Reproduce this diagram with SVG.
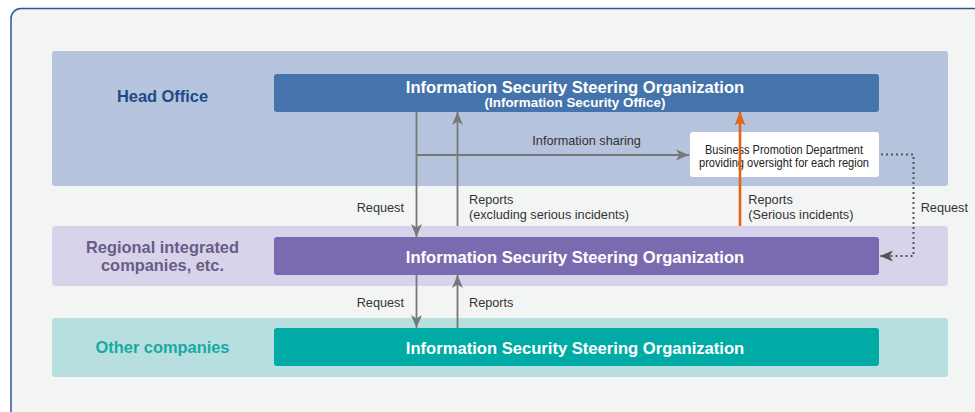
<svg xmlns="http://www.w3.org/2000/svg" width="975" height="412" viewBox="0 0 975 412">
<style>
.band{stroke:none}
.box-t{font-family:"Liberation Sans",Arial,sans-serif;font-weight:bold;fill:#ffffff;text-anchor:middle}
.lbl{font-family:"Liberation Sans",Arial,sans-serif;font-weight:bold;text-anchor:middle;font-size:16.4px}
.sm{font-family:"Liberation Sans",Arial,sans-serif;font-size:12.7px;fill:#333333}
.gl{stroke:#787878;stroke-width:1.8;fill:none}
.dot{stroke:#555555;stroke-width:2;fill:none;stroke-dasharray:2 3}
.cond{font-family:"Liberation Sans",Arial,sans-serif;font-size:12.6px;fill:#222222;text-anchor:middle}
</style>
<defs>
<marker id="ag" markerUnits="userSpaceOnUse" markerWidth="14" markerHeight="12" refX="13" refY="6" orient="auto">
<path d="M0,0.5 L13,6 L0,11.5 L3.5,6 z" fill="#787878"/>
</marker>
<marker id="ad" markerUnits="userSpaceOnUse" markerWidth="14" markerHeight="12" refX="13" refY="6" orient="auto">
<path d="M0,0.5 L13,6 L0,11.5 L3.5,6 z" fill="#555555"/>
</marker>
<marker id="ao" markerUnits="userSpaceOnUse" markerWidth="14" markerHeight="12" refX="13" refY="6" orient="auto">
<path d="M0,0.5 L13,6 L0,11.5 L2,6 z" fill="#e0661a"/>
</marker>
</defs>
<rect x="0" y="0" width="975" height="412" fill="#ffffff"/>
<rect x="11" y="8.5" width="1000" height="460" rx="10" fill="#f3f4f4" stroke="#2b5797" stroke-width="1.5"/>

<g id="band-head">
<rect class="band" x="52" y="51" width="896" height="135" rx="3" fill="#b5c3dc"/>
<text class="lbl" x="162.5" y="102" fill="#1d4a87">Head Office</text>
</g>
<g id="band-regional">
<rect class="band" x="52" y="226" width="896" height="60" rx="3" fill="#d7d3ea"/>
<text class="lbl" x="162.5" y="252.5" fill="#6b5b88">Regional integrated</text>
<text class="lbl" x="162.5" y="270.5" fill="#6b5b88">companies, etc.</text>
</g>
<g id="band-other">
<rect class="band" x="52" y="318" width="896" height="59" rx="3" fill="#b8dfdf"/>
<text class="lbl" x="162.5" y="352.5" fill="#17aaa4">Other companies</text>
</g>

<g id="node-head">
<rect x="274" y="74" width="605" height="38" rx="3" fill="#4573ab"/>
<text class="box-t" x="575" y="92.5" font-size="16.6">Information Security Steering Organization</text>
<text class="box-t" x="575" y="107" font-size="13.4">(Information Security Office)</text>
</g>
<g id="node-regional">
<rect x="274" y="237" width="605" height="38" rx="3" fill="#7a6bb0"/>
<text class="box-t" x="575" y="263" font-size="16.6">Information Security Steering Organization</text>
</g>
<g id="node-other">
<rect x="274" y="328" width="605" height="38" rx="3" fill="#00aba5"/>
<text class="box-t" x="575" y="354" font-size="16.6">Information Security Steering Organization</text>
</g>
<g id="node-bpd">
<rect x="690" y="132" width="189" height="45" rx="3" fill="#ffffff"/>
<text class="cond" x="784" y="153.5" textLength="158" lengthAdjust="spacingAndGlyphs">Business Promotion Department</text>
<text class="cond" x="784" y="167" textLength="170" lengthAdjust="spacingAndGlyphs">providing oversight for each region</text>
</g>

<g id="connectors">
<line class="gl" x1="416.5" y1="112" x2="416.5" y2="237" marker-end="url(#ag)"/>
<line class="gl" x1="457.5" y1="226" x2="457.5" y2="112" marker-end="url(#ag)"/>
<line class="gl" x1="416.5" y1="155" x2="689" y2="155" marker-end="url(#ag)"/>
<line x1="740" y1="226" x2="740" y2="112" stroke="#e0661a" stroke-width="2.6" marker-end="url(#ao)"/>
<polyline class="dot" points="881,154.5 913.5,154.5 913.5,256 880,256" marker-end="url(#ad)"/>
<line class="gl" x1="416.5" y1="275" x2="416.5" y2="328" marker-end="url(#ag)"/>
<line class="gl" x1="457.5" y1="328" x2="457.5" y2="275" marker-end="url(#ag)"/>
</g>

<g id="labels">
<text class="sm" x="532.3" y="145">Information sharing</text>
<text class="sm" x="356.7" y="211.7">Request</text>
<text class="sm" x="469" y="203.5">Reports</text>
<text class="sm" x="469" y="218.5">(excluding serious incidents)</text>
<text class="sm" x="748.3" y="204">Reports</text>
<text class="sm" x="748.3" y="219">(Serious incidents)</text>
<text class="sm" x="920.7" y="211.7">Request</text>
<text class="sm" x="356.7" y="306.7">Request</text>
<text class="sm" x="469" y="306.7">Reports</text>
</g>
</svg>
